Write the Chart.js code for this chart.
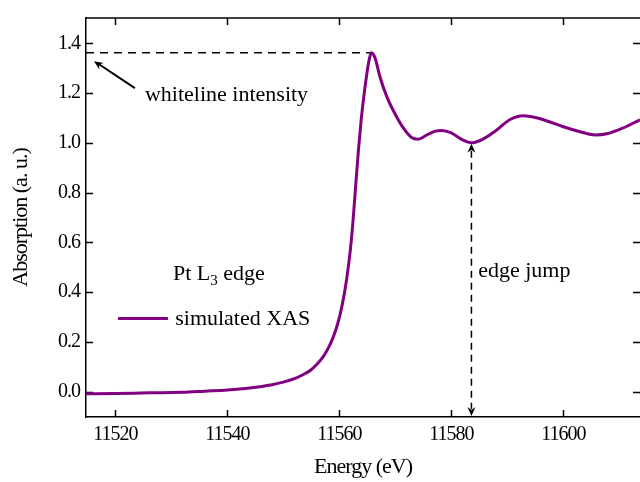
<!DOCTYPE html>
<html>
<head>
<meta charset="utf-8">
<script src="https://cdn.jsdelivr.net/npm/chart.js@4.4.1/dist/chart.umd.min.js"></script>
<style>
  body { margin: 0; background: #fff; }
  canvas { display: block; }
</style>
</head>
<body>
<canvas id="xasChart" width="640" height="482"></canvas>
<script>
// Pt L3 edge, simulated XAS spectrum
const energy = [
  11514.8, 11520, 11526, 11532, 11536, 11540, 11544, 11548, 11550, 11552,
  11553.5, 11554.8, 11556, 11557.2, 11558.1, 11558.9, 11559.7, 11560.4, 11561.3, 11562,
  11562.5, 11562.9, 11563.4, 11563.9, 11564.4, 11564.9, 11565.3, 11565.7, 11566.1, 11566.4,
  11567.3, 11568.5, 11569.9, 11571.4, 11572.9, 11574.1, 11575.5, 11577, 11578.3, 11580,
  11582, 11583.6, 11585.5, 11588, 11590.5, 11592.9, 11595, 11597.5, 11600, 11603,
  11605.7, 11608, 11610.5, 11613.7
];
const absorption = [
  -0.009, -0.008, -0.005, -0.003, 0.002, 0.007, 0.015, 0.028, 0.038, 0.052,
  0.068, 0.085, 0.110, 0.143, 0.178, 0.218, 0.272, 0.335, 0.450, 0.575,
  0.700, 0.820, 0.965, 1.090, 1.190, 1.275, 1.330, 1.362, 1.355, 1.341,
  1.263, 1.185, 1.119, 1.061, 1.022, 1.015, 1.030, 1.046, 1.050, 1.040,
  1.012, 1.000, 1.013, 1.050, 1.094, 1.109, 1.102, 1.085, 1.065, 1.045,
  1.032, 1.038, 1.058, 1.093
];
const xTicks = [11520, 11540, 11560, 11580, 11600];
const yTicks = [0.0, 0.2, 0.4, 0.6, 0.8, 1.0, 1.2, 1.4];

// whiteline maximum and the post-edge point used for the edge jump
const whiteline = { x: 11565.7, y: 1.362 };
const edgeStep = { x: 11583.6, y: 1.0 };

const serif = '"Liberation Serif", "Times New Roman", serif';
Chart.defaults.color = '#000';
Chart.defaults.font.family = serif;

function arrowHead(ctx, x, y, angle) {
  ctx.save();
  ctx.translate(x, y);
  ctx.rotate(angle);
  ctx.beginPath();
  ctx.moveTo(0, 0);
  ctx.lineTo(-9, -4);
  ctx.lineTo(-6, 0);
  ctx.lineTo(-9, 4);
  ctx.closePath();
  ctx.fill();
  ctx.restore();
}

const decorations = {
  id: 'decorations',
  beforeDraw(chart) {
    chart.ctx.letterSpacing = '-1px';
  },
  beforeDatasetsDraw(chart) {
    const { ctx, chartArea: a, scales: { x, y } } = chart;
    ctx.letterSpacing = '0px';
    ctx.save();
    ctx.strokeStyle = '#000';
    ctx.lineWidth = 1.5;
    ctx.beginPath();
    // top frame line
    ctx.moveTo(a.left, a.top);
    ctx.lineTo(a.right, a.top);
    // inward tick marks on all four sides
    x.ticks.forEach(t => {
      const px = Math.round(x.getPixelForValue(t.value)) + 0.5;
      ctx.moveTo(px, a.bottom); ctx.lineTo(px, a.bottom - 7);
      ctx.moveTo(px, a.top); ctx.lineTo(px, a.top + 7);
    });
    y.ticks.forEach(t => {
      const py = Math.round(y.getPixelForValue(t.value)) + 0.5;
      ctx.moveTo(a.left, py); ctx.lineTo(a.left + 7, py);
      ctx.moveTo(a.right, py); ctx.lineTo(a.right - 7, py);
    });
    ctx.stroke();

    // dashed guides
    ctx.setLineDash([8, 6]);
    ctx.beginPath();
    const wy = y.getPixelForValue(whiteline.y);
    ctx.moveTo(a.left, wy);
    ctx.lineTo(x.getPixelForValue(whiteline.x), wy);
    ctx.stroke();
    ctx.setLineDash([7, 5]);
    ctx.beginPath();
    const ex = x.getPixelForValue(edgeStep.x);
    ctx.moveTo(ex, y.getPixelForValue(edgeStep.y) + 8);
    ctx.lineTo(ex, a.bottom - 8);
    ctx.stroke();
    ctx.restore();
  },
  afterDraw(chart) {
    const { ctx, chartArea: a, scales: { x, y } } = chart;
    const ds = chart.data.datasets[0];
    ctx.save();
    ctx.fillStyle = '#000';
    ctx.strokeStyle = '#000';

    // edge jump arrow heads
    const ex = x.getPixelForValue(edgeStep.x);
    arrowHead(ctx, ex, y.getPixelForValue(edgeStep.y) + 1, -Math.PI / 2);
    arrowHead(ctx, ex, a.bottom - 1, Math.PI / 2);

    // whiteline pointer
    const tx = x.getPixelForValue(11523.5), ty = y.getPixelForValue(1.22);
    const hx = x.getPixelForValue(11516.2), hy = y.getPixelForValue(1.328);
    ctx.lineWidth = 2;
    ctx.beginPath();
    ctx.moveTo(tx, ty);
    ctx.lineTo(hx + 5, hy + 3);
    ctx.stroke();
    arrowHead(ctx, hx, hy, Math.atan2(hy - ty, hx - tx));

    ctx.font = '22px ' + serif;
    ctx.textBaseline = 'alphabetic';
    ctx.textAlign = 'left';
    ctx.fillText('whiteline intensity', x.getPixelForValue(11525.3), y.getPixelForValue(1.17));
    ctx.fillText('edge jump', x.getPixelForValue(11584.8), y.getPixelForValue(0.462));

    // Pt L3 edge with subscript
    let px = x.getPixelForValue(11530.3);
    const py = y.getPixelForValue(0.447);
    ctx.fillText('Pt L', px, py);
    px += ctx.measureText('Pt L').width;
    ctx.font = '15px ' + serif;
    ctx.fillText('3', px, py + 5);
    px += ctx.measureText('3').width;
    ctx.font = '22px ' + serif;
    ctx.fillText(' edge', px, py);

    // legend entry
    const ly = y.getPixelForValue(0.294);
    ctx.strokeStyle = ds.borderColor;
    ctx.lineWidth = 3;
    ctx.beginPath();
    ctx.moveTo(x.getPixelForValue(11520.5), ly);
    ctx.lineTo(x.getPixelForValue(11529.4), ly);
    ctx.stroke();
    ctx.fillText(ds.label, x.getPixelForValue(11530.7), y.getPixelForValue(0.266));
    ctx.restore();
  }
};

new Chart('xasChart', {
  type: 'line',
  data: {
    datasets: [{
      label: 'simulated XAS',
      data: energy.map((e, i) => ({ x: e, y: absorption[i] })),
      borderColor: '#800080',
      borderWidth: 3,
      pointRadius: 0,
      cubicInterpolationMode: 'monotone',
      fill: false
    }]
  },
  options: {
    responsive: false,
    animation: false,
    layout: { padding: { top: 7, right: 0, left: 0, bottom: 0 } },
    plugins: {
      legend: { display: false },
      tooltip: { enabled: false }
    },
    scales: {
      x: {
        type: 'linear',
        min: 11514.77,
        max: 11613.7,
        afterBuildTicks: s => { s.ticks = xTicks.map(v => ({ value: v })); },
        afterFit: s => { s.height = 65; },
        ticks: {
          padding: 6,
          font: { size: 20 },
          callback: v => String(v)
        },
        grid: { display: false, drawTicks: false },
        border: { display: true, color: '#000', width: 1.5 },
        title: {
          display: true,
          text: 'Energy (eV)',
          font: { size: 22 },
          padding: { top: 0, bottom: 2 }
        }
      },
      y: {
        min: -0.102,
        max: 1.502,
        afterBuildTicks: s => { s.ticks = yTicks.map(v => ({ value: v })); },
        afterFit: s => { s.width = 86; },
        ticks: {
          padding: 6,
          font: { size: 20 },
          callback: v => v.toFixed(1)
        },
        grid: { display: false, drawTicks: false },
        border: { display: true, color: '#000', width: 1.5 },
        title: {
          display: true,
          text: 'Absorption (a. u.)',
          font: { size: 22 },
          padding: { top: 8, bottom: 0 }
        }
      }
    }
  },
  plugins: [decorations]
});
</script>
</body>
</html>
